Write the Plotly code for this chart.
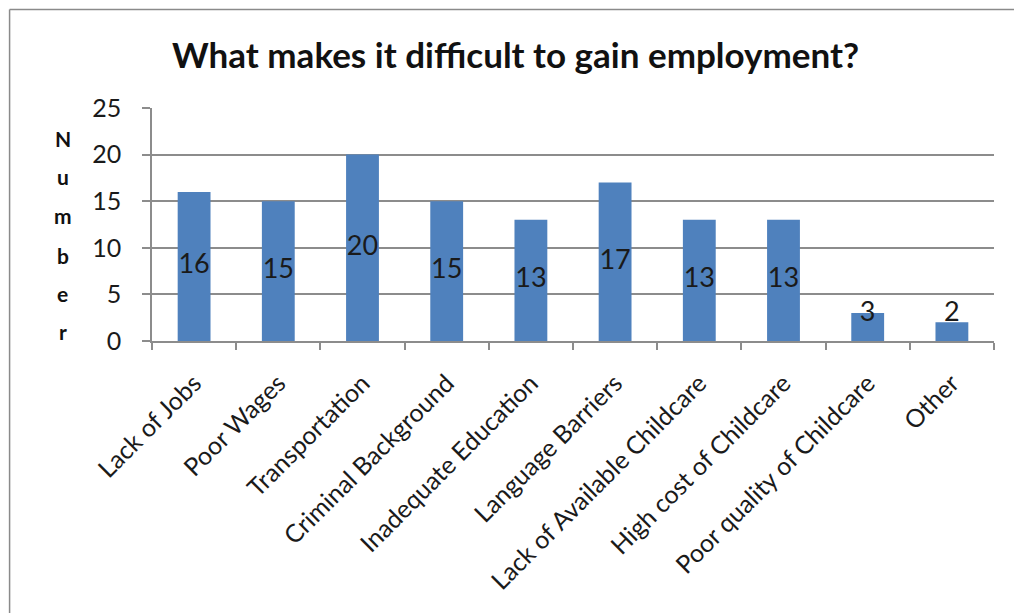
import plotly.graph_objects as go

categories = ["Lack of Jobs", "Poor Wages", "Transportation", "Criminal Background",
              "Inadequate Education", "Language Barriers", "Lack of Available Childcare",
              "High cost of Childcare", "Poor quality of Childcare", "Other"]
values = [16, 15, 20, 15, 13, 17, 13, 13, 3, 2]
y_ticks = [0, 5, 10, 15, 20, 25]
chart_title = "What makes it difficult to gain employment?"
y_title_letters = list("Number")

FONT = "Lato, 'Open Sans', sans-serif"
GRID = "#8c8c8c"

fig = go.Figure()
fig.add_trace(go.Bar(
    x=categories, y=values,
    marker=dict(color="#4f81bd", line=dict(width=0)),
    hoverinfo="x+y",
))
# data labels centred in bars (kept readable for very short bars)
label_y = [max(v / 2, 2.9) for v in values]
fig.add_trace(go.Scatter(
    x=categories, y=label_y, mode="text",
    text=[str(v) for v in values],
    textfont=dict(family=FONT, size=27, color="#1a1a1a"),
    hoverinfo="skip",
))

W, H = 1014, 613
L, R, T, B = 151.5, 20, 108.3, 613 - 340.7
pw = W - L - R
ph = H - T - B

def px_to_paper_x(px):
    return (px - L) / pw

def px_to_paper_y(py):
    return (H - B - py) / ph

frame_line = dict(color="#8a8a8a", width=1.5)
shapes = [
    dict(type="line", xref="paper", yref="paper", layer="below",
         x0=px_to_paper_x(9), x1=px_to_paper_x(9),
         y0=px_to_paper_y(613), y1=px_to_paper_y(10), line=frame_line),
    dict(type="line", xref="paper", yref="paper", layer="below",
         x0=px_to_paper_x(9), x1=px_to_paper_x(1014),
         y0=px_to_paper_y(10), y1=px_to_paper_y(10), line=frame_line),
]

annotations = [dict(
    text=chart_title, xref="paper", yref="paper",
    x=px_to_paper_x(515), y=px_to_paper_y(54), xanchor="center", yanchor="middle",
    showarrow=False, font=dict(family=FONT, size=35, color="#111111", weight="bold"),
)]
letter_ys = [139, 177, 216, 255, 293, 331]
for ch, ly in zip(y_title_letters, letter_ys):
    annotations.append(dict(
        text=ch, xref="paper", yref="paper",
        x=px_to_paper_x(62), y=px_to_paper_y(ly), xanchor="center", yanchor="middle",
        showarrow=False, font=dict(family=FONT, size=21, color="#111111", weight="bold"),
    ))

fig.update_layout(
    width=W, height=H,
    margin=dict(l=L, r=R, t=T, b=B, pad=0),
    paper_bgcolor="white", plot_bgcolor="rgba(0,0,0,0)",
    showlegend=False, bargap=0.61,
    shapes=shapes, annotations=annotations,
    font=dict(family=FONT, color="#1a1a1a"),
)
fig.update_xaxes(
    type="category", tickangle=-45, tickson="boundaries",
    ticks="outside", ticklen=7, tickcolor=GRID, tickwidth=1.5,
    showline=True, linecolor=GRID, linewidth=1.5,
    showgrid=False, tickfont=dict(family=FONT, size=25, color="#1a1a1a"),
    ticklabelstandoff=16,
)
fig.update_yaxes(
    range=[0, 25], tickvals=y_ticks,
    ticks="outside", ticklen=8, tickcolor=GRID, tickwidth=1.5,
    showline=True, linecolor=GRID, linewidth=1.5,
    showgrid=True, gridcolor=GRID, gridwidth=1.5, zeroline=False,
    tickfont=dict(family=FONT, size=25, color="#1a1a1a"),
    ticklabelstandoff=16,
)

fig.write_html("out.html")
